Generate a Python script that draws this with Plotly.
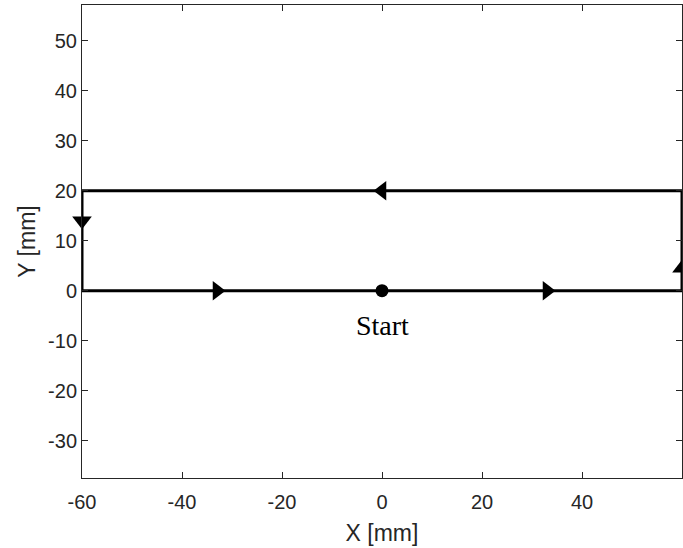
import plotly.graph_objects as go

# Rectangular tool path (mm), starting and ending at the origin
path_x = [0, 60, 60, -60, -60, 0]
path_y = [0, 0, 20, 20, 0, 0]

# Direction arrows placed along the path
arrow_x = [33, 60, 0, -60, -33]
arrow_y = [0, 4.5, 20, 14, 0]
arrow_symbols = ["triangle-right", "triangle-up", "triangle-left", "triangle-down", "triangle-right"]

# Start point
start_x = [0]
start_y = [0]
start_label = "Start"

x_ticks = [-60, -40, -20, 0, 20, 40]
x_ticktext = ["-60", "-40", "-20", "0", "20", "40"]
y_ticks = [-30, -20, -10, 0, 10, 20, 30, 40, 50]
y_ticktext = ["-30", "-20", "-10", "0", "10", "20", "30", "40", "50"]

fig = go.Figure()

fig.add_trace(go.Scatter(
    x=path_x, y=path_y, mode="lines",
    line=dict(color="black", width=3),
    showlegend=False, hoverinfo="skip",
))

fig.add_trace(go.Scatter(
    x=arrow_x, y=arrow_y, mode="markers",
    marker=dict(symbol=arrow_symbols, size=17, color="black"),
    cliponaxis=False,
    showlegend=False, hoverinfo="skip",
))

fig.add_trace(go.Scatter(
    x=start_x, y=start_y, mode="markers",
    marker=dict(symbol="circle", size=13, color="black"),
    showlegend=False, hoverinfo="skip",
))

fig.add_annotation(
    x=start_x[0], y=start_y[0], text=start_label, showarrow=False,
    yshift=-35,
    font=dict(family="Times New Roman, Liberation Serif, serif", size=28, color="black"),
)

axis_font = "Arial, Liberation Sans, sans-serif"
axis_common = dict(
    showgrid=False, zeroline=False,
    showline=True, linecolor="#262626", linewidth=1, mirror="ticks",
    ticks="inside", ticklen=6, tickcolor="#262626", tickwidth=1,
    tickfont=dict(family=axis_font, size=20, color="#262626"),
)

fig.update_xaxes(
    range=[-60, 60], tickvals=x_ticks, ticktext=x_ticktext,
    ticklabelstandoff=6,
    title=dict(text="X [mm]", font=dict(family=axis_font, size=23, color="#262626"), standoff=12),
    **axis_common,
)
fig.update_yaxes(
    range=[-37.5, 57.2], tickvals=y_ticks, ticktext=y_ticktext,
    title=dict(text="Y [mm]", font=dict(family=axis_font, size=23, color="#262626"), standoff=6),
    **axis_common,
)

fig.update_layout(
    width=683, height=548,
    margin=dict(l=82, r=1, t=5, b=70),
    paper_bgcolor="white", plot_bgcolor="white",
)

fig.write_html("out.html")
